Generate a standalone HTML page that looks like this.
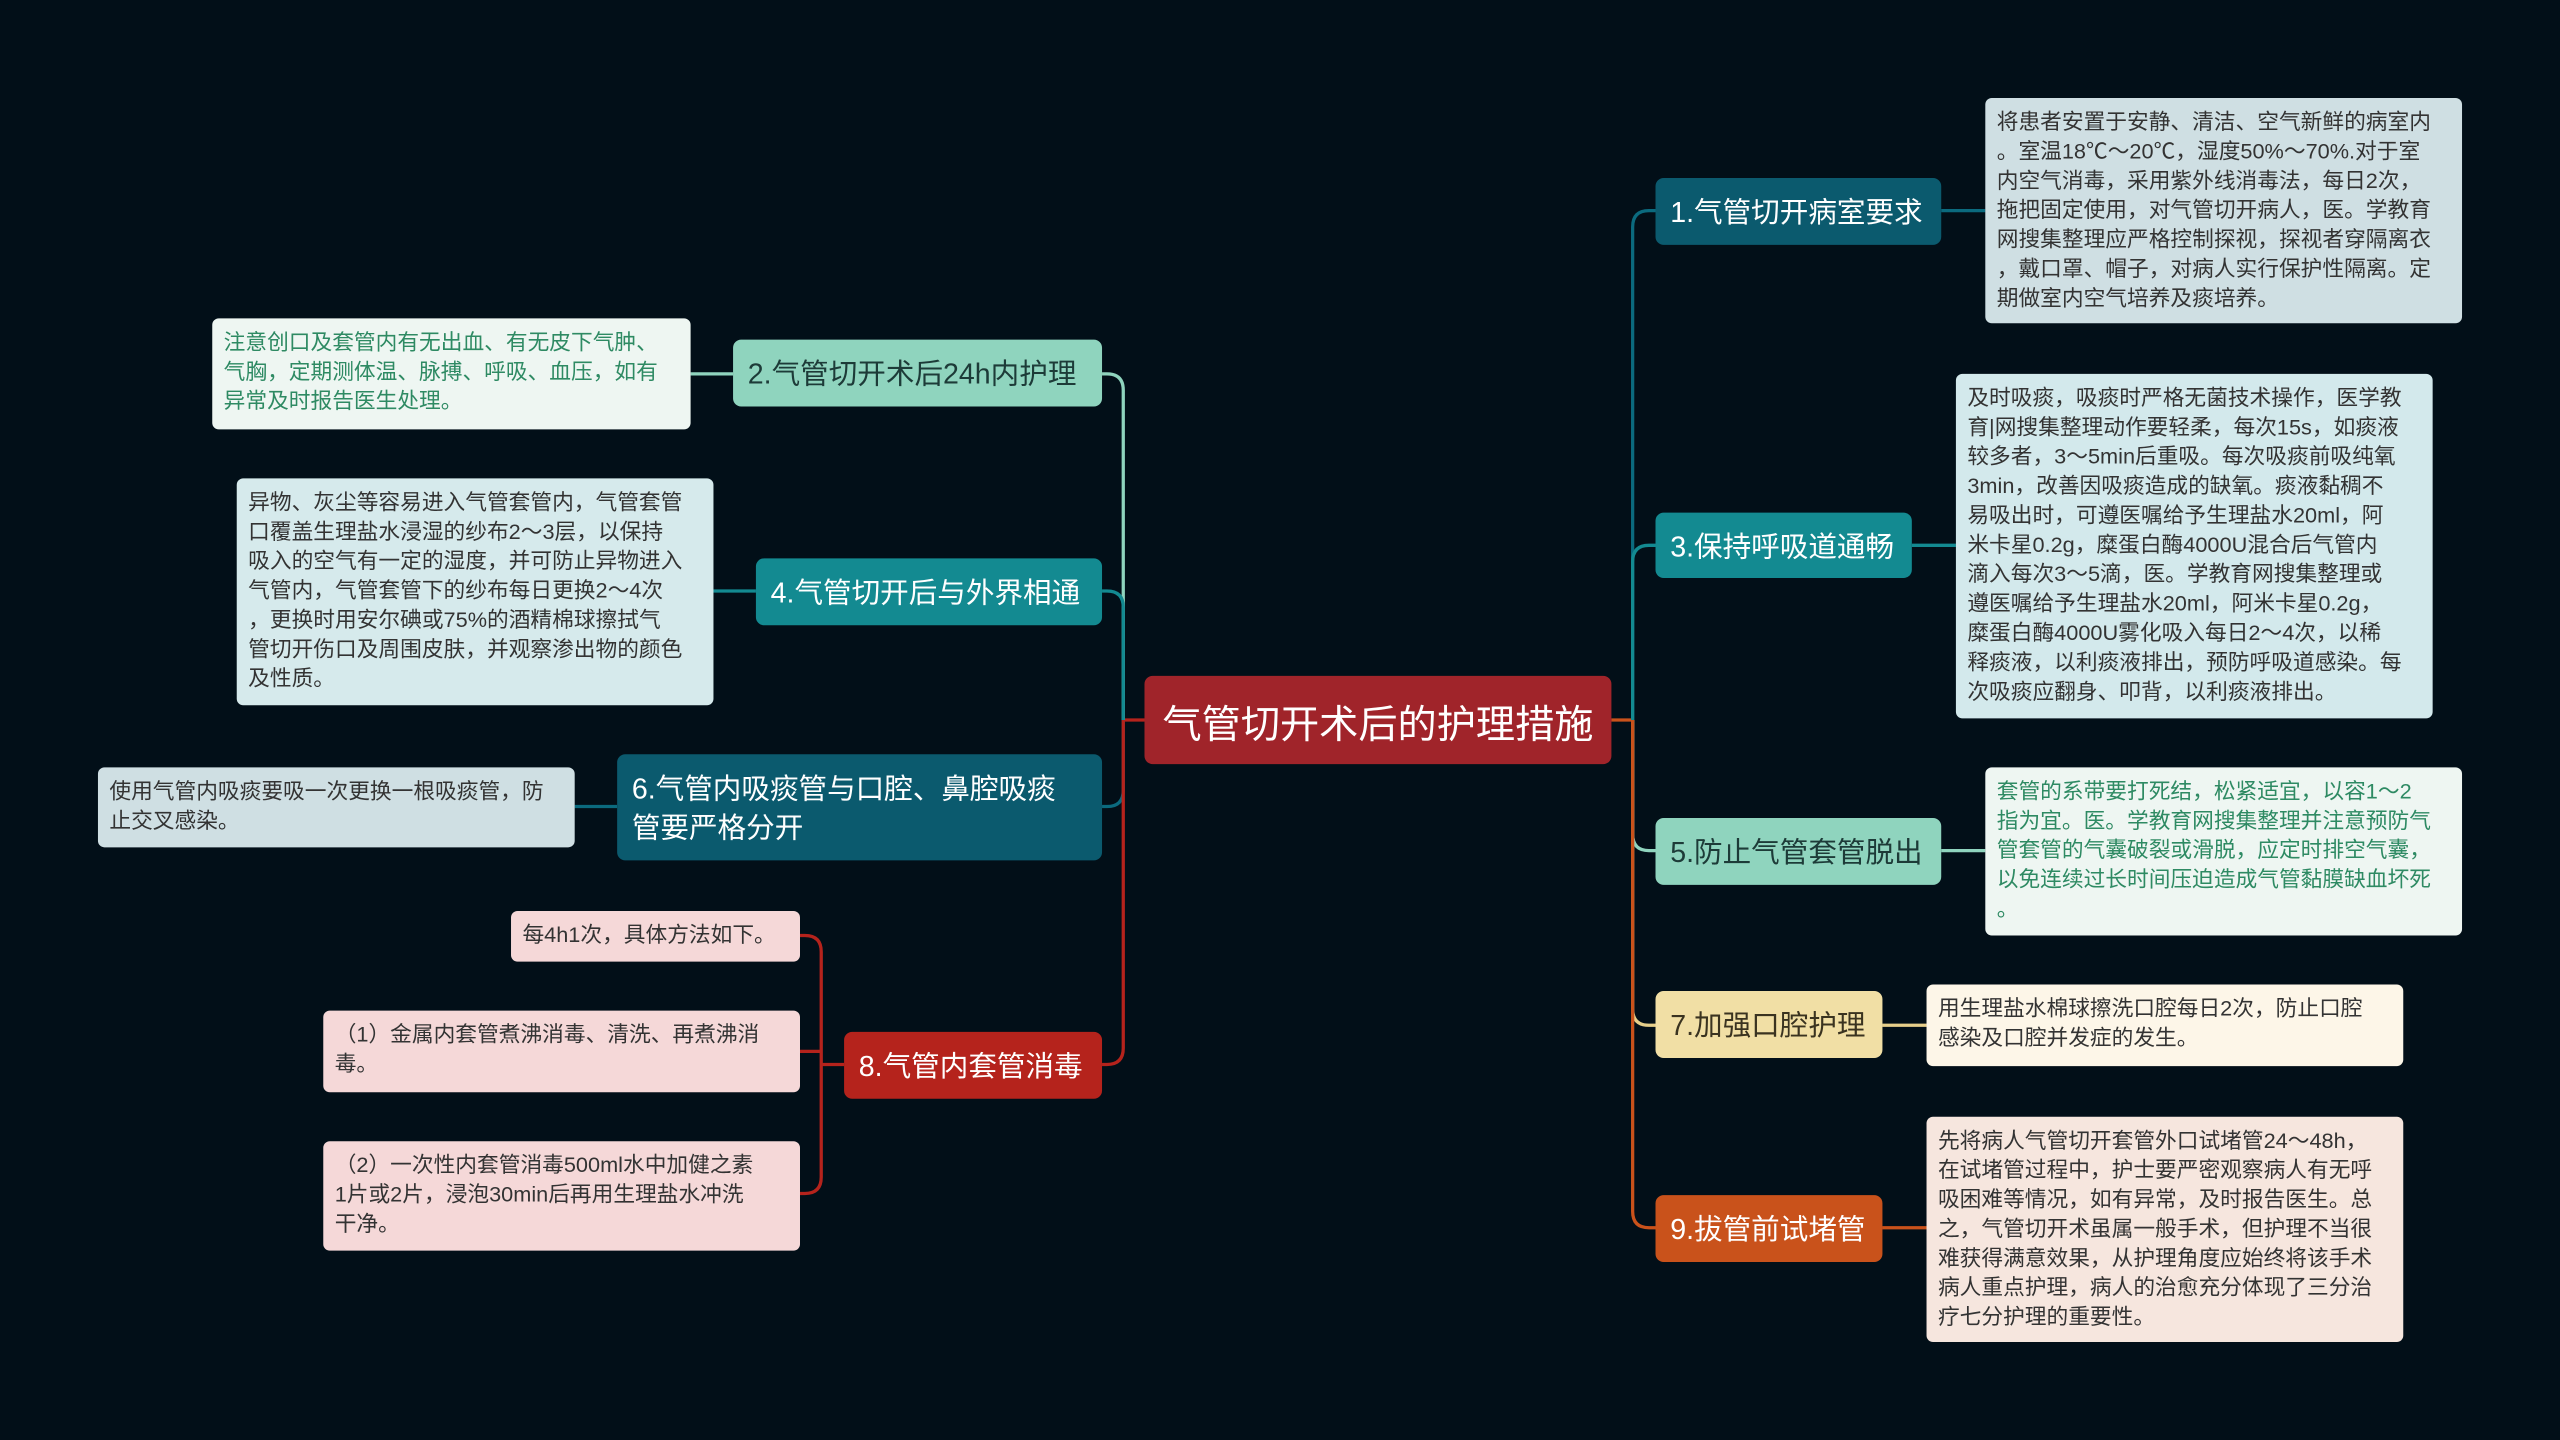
<!DOCTYPE html>
<html><head><meta charset="utf-8"><style>
html,body{margin:0;padding:0;background:#020f18;width:2560px;height:1440px;overflow:hidden}
#s{position:absolute;left:0;top:0;width:1568px;height:882px;transform:scale(1.63265);transform-origin:0 0;font-family:"Liberation Sans","Noto Sans CJK SC",sans-serif}
.n{position:absolute;border-radius:5px;box-sizing:border-box;display:flex;align-items:center;font-size:17.5px;padding:0 9px;white-space:nowrap}
.l{position:absolute;border-radius:4px;box-sizing:border-box;font-size:13.3px;line-height:18px;padding:6px 7px;color:#333;white-space:nowrap;overflow:hidden}
svg{position:absolute;left:0;top:0}
</style></head><body><div id="s">
<svg width="1568" height="882" fill="none" stroke-width="2">
<path d="M987 441 H1000" stroke="#c9521b"/>
<path d="M1014 129 H1010 Q1000 129 1000 139 V441" stroke="#0b6a7e"/>
<path d="M1014 334 H1010 Q1000 334 1000 344 V441" stroke="#138a91"/>
<path d="M1014 521 H1010 Q1000 521 1000 511 V441" stroke="#8fd4be"/>
<path d="M1014 628 H1010 Q1000 628 1000 618 V441" stroke="#e6cf8a"/>
<path d="M1000 441 V742 Q1000 752 1010 752 H1014" stroke="#c9521b"/>
<path d="M701 441 H688" stroke="#b5231c"/>
<path d="M675 229 H678 Q688 229 688 239 V441" stroke="#8fd4be"/>
<path d="M675 362 H678 Q688 362 688 372 V441" stroke="#138a91"/>
<path d="M675 494 H678 Q688 494 688 484 V441" stroke="#0b6a7e"/>
<path d="M675 652 H678 Q688 652 688 642 V441" stroke="#b5231c"/>
<path d="M1189 129 H1216" stroke="#0b6a7e"/>
<path d="M1171 334 H1198" stroke="#138a91"/>
<path d="M1189 521 H1216" stroke="#8fd4be"/>
<path d="M1153 628 H1180" stroke="#e6cf8a"/>
<path d="M1153 752 H1180" stroke="#c9521b"/>
<path d="M449 229 H423" stroke="#8fd4be"/>
<path d="M463 362 H437" stroke="#138a91"/>
<path d="M378 494 H352" stroke="#0b6a7e"/>
<path d="M517 652 H503 M490 573 H493 Q503 573 503 583 V721 Q503 731 493 731 H490 M490 644 H503" stroke="#b5231c"/>
</svg>
<div class="n" style="left:701px;top:414px;width:286px;height:54px;background:#a0242a;color:#fff;font-size:24px;justify-content:center">气管切开术后的护理措施</div>
<div class="n" style="left:1014px;top:109px;width:175px;height:41px;background:#0b5a6e;color:#fff">1.气管切开病室要求</div>
<div class="n" style="left:1014px;top:314px;width:157px;height:40px;background:#138a91;color:#fff">3.保持呼吸道通畅</div>
<div class="n" style="left:1014px;top:501px;width:175px;height:41px;background:#8fd4be;color:#1d3b38">5.防止气管套管脱出</div>
<div class="n" style="left:1014px;top:607px;width:139px;height:41px;background:#f1dfa5;color:#3a3320">7.加强口腔护理</div>
<div class="n" style="left:1014px;top:732px;width:139px;height:41px;background:#c9521b;color:#fff">9.拔管前试堵管</div>
<div class="n" style="left:449px;top:208px;width:226px;height:41px;background:#8fd4be;color:#1d3b38">2.气管切开术后24h内护理</div>
<div class="n" style="left:463px;top:342px;width:212px;height:41px;background:#138a91;color:#fff">4.气管切开后与外界相通</div>
<div class="n" style="left:378px;top:462px;width:297px;height:65px;background:#0b5a6e;color:#fff;line-height:24px">6.气管内吸痰管与口腔、鼻腔吸痰<br>管要严格分开</div>
<div class="n" style="left:517px;top:632px;width:158px;height:41px;background:#b5231c;color:#fff">8.气管内套管消毒</div>

<div class="l" style="left:1216px;top:60px;width:292px;height:138px;background:#cfdfe3">将患者安置于安静、清洁、空气新鲜的病室内<br>。室温18℃～20℃，湿度50%～70%.对于室<br>内空气消毒，采用紫外线消毒法，每日2次，<br>拖把固定使用，对气管切开病人，医。学教育<br>网搜集整理应严格控制探视，探视者穿隔离衣<br>，戴口罩、帽子，对病人实行保护性隔离。定<br>期做室内空气培养及痰培养。</div>
<div class="l" style="left:1198px;top:229px;width:292px;height:211px;background:#d3e9ec">及时吸痰，吸痰时严格无菌技术操作，医学教<br>育|网搜集整理动作要轻柔，每次15s，如痰液<br>较多者，3～5min后重吸。每次吸痰前吸纯氧<br>3min，改善因吸痰造成的缺氧。痰液黏稠不<br>易吸出时，可遵医嘱给予生理盐水20ml，阿<br>米卡星0.2g，糜蛋白酶4000U混合后气管内<br>滴入每次3～5滴，医。学教育网搜集整理或<br>遵医嘱给予生理盐水20ml，阿米卡星0.2g，<br>糜蛋白酶4000U雾化吸入每日2～4次，以稀<br>释痰液，以利痰液排出，预防呼吸道感染。每<br>次吸痰应翻身、叩背，以利痰液排出。</div>
<div class="l" style="left:1216px;top:470px;width:292px;height:103px;background:#eef6f2;color:#2e8a63">套管的系带要打死结，松紧适宜，以容1～2<br>指为宜。医。学教育网搜集整理并注意预防气<br>管套管的气囊破裂或滑脱，应定时排空气囊，<br>以免连续过长时间压迫造成气管黏膜缺血坏死<br>。</div>
<div class="l" style="left:1180px;top:603px;width:292px;height:50px;background:#fdf6e8">用生理盐水棉球擦洗口腔每日2次，防止口腔<br>感染及口腔并发症的发生。</div>
<div class="l" style="left:1180px;top:684px;width:292px;height:138px;background:#f6e6de">先将病人气管切开套管外口试堵管24～48h，<br>在试堵管过程中，护士要严密观察病人有无呼<br>吸困难等情况，如有异常，及时报告医生。总<br>之，气管切开术虽属一般手术，但护理不当很<br>难获得满意效果，从护理角度应始终将该手术<br>病人重点护理，病人的治愈充分体现了三分治<br>疗七分护理的重要性。</div>
<div class="l" style="left:130px;top:195px;width:293px;height:68px;background:#eef6f2;color:#2e8a63">注意创口及套管内有无出血、有无皮下气肿、<br>气胸，定期测体温、脉搏、呼吸、血压，如有<br>异常及时报告医生处理。</div>
<div class="l" style="left:145px;top:293px;width:292px;height:139px;background:#d6eaec">异物、灰尘等容易进入气管套管内，气管套管<br>口覆盖生理盐水浸湿的纱布2～3层，以保持<br>吸入的空气有一定的湿度，并可防止异物进入<br>气管内，气管套管下的纱布每日更换2～4次<br>，更换时用安尔碘或75%的酒精棉球擦拭气<br>管切开伤口及周围皮肤，并观察渗出物的颜色<br>及性质。</div>
<div class="l" style="left:60px;top:470px;width:292px;height:49px;background:#cfdfe3">使用气管内吸痰要吸一次更换一根吸痰管，防<br>止交叉感染。</div>
<div class="l" style="left:313px;top:558px;width:177px;height:31px;background:#f5d8d8">每4h1次，具体方法如下。</div>
<div class="l" style="left:198px;top:619px;width:292px;height:50px;background:#f5d8d8">（1）金属内套管煮沸消毒、清洗、再煮沸消<br>毒。</div>
<div class="l" style="left:198px;top:699px;width:292px;height:67px;background:#f5d8d8">（2）一次性内套管消毒500ml水中加健之素<br>1片或2片，浸泡30min后再用生理盐水冲洗<br>干净。</div>
</div></body></html>
